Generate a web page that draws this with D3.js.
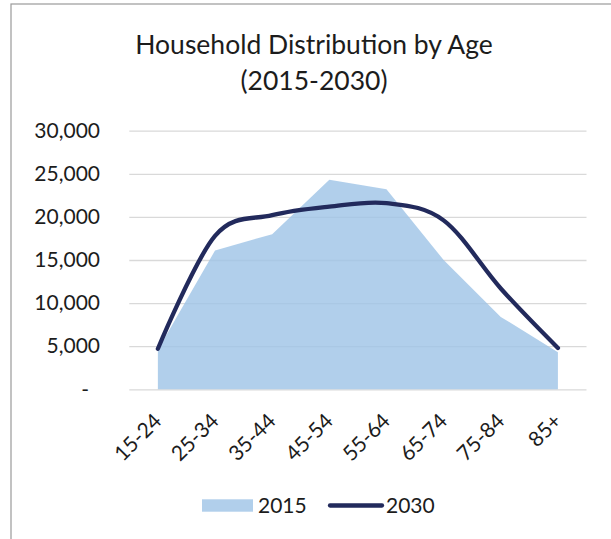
<!DOCTYPE html>
<html>
<head>
<meta charset="utf-8">
<script src="https://cdn.jsdelivr.net/npm/d3@7"></script>
<style>
  body { margin: 0; background: #fff; }
  svg { display: block; font-family: Lato, "Open Sans", sans-serif; }
</style>
</head>
<body>
<svg id="chart" width="611" height="539"></svg>
<script>
// household counts by age band
const ages = ["15-24", "25-34", "35-44", "45-54", "55-64", "65-74", "75-84", "85+"];
const hh2015 = [4600, 16100, 18000, 24300, 23200, 15000, 8400, 4300];
const hh2030 = [4700, 17800, 20200, 21200, 21600, 19600, 11700, 4800];
const yTicks = [0, 5000, 10000, 15000, 20000, 25000, 30000];
const titleLines = ["Household Distribution by Age", "(2015-2030)"];
const seriesNames = ["2015", "2030"];

const W = 611, H = 539;
const plot = { left: 129.3, right: 586.5, top: 130.7, bottom: 389.3 };
const areaFill = "#9dc3e6", areaOpacity = 0.8;
const lineColor = "#222a5c";
const textColor = "#1c1c1c";

const svg = d3.select("#chart");

// frame (only left and top edges fall inside the window)
svg.append("rect")
  .attr("x", 11).attr("y", 4)
  .attr("width", W + 20).attr("height", H + 20)
  .attr("fill", "none").attr("stroke", "#9a9a9a").attr("stroke-width", 1.2);

const x = d3.scaleBand().domain(ages).range([plot.left, plot.right]);
const y = d3.scaleLinear().domain([0, 30000]).range([plot.bottom, plot.top]);
const cx = d => x(d) + x.bandwidth() / 2;

// title
svg.append("text")
  .attr("text-anchor", "middle")
  .attr("fill", textColor)
  .attr("font-size", 26.5)
  .selectAll("tspan")
  .data(titleLines)
  .join("tspan")
  .attr("x", 314)
  .attr("y", (d, i) => i === 0 ? 54.3 : 90)
  .text(d => d);

// gridlines
svg.append("g")
  .attr("transform", `translate(${plot.left},0)`)
  .call(d3.axisLeft(y).tickValues(yTicks).tickSize(-(plot.right - plot.left)).tickFormat(""))
  .call(g => g.select(".domain").remove())
  .call(g => g.selectAll("line").attr("stroke", "#d9d9d9").attr("stroke-width", 1.3));

// y labels
svg.append("g")
  .attr("transform", `translate(${plot.left},0)`)
  .call(d3.axisLeft(y).tickValues(yTicks).tickSize(0).tickPadding(29.3)
    .tickFormat(d => d === 0 ? "-" : d3.format(",")(d)))
  .call(g => g.select(".domain").remove())
  .call(g => g.selectAll("text")
    .attr("font-family", "Lato, sans-serif")
    .attr("font-size", 21)
    .attr("fill", textColor)
    .attr("dx", d => d === 0 ? -11 : 0));

// 2015 area
const area = d3.area()
  .x((d, i) => cx(ages[i]))
  .y0(y(0))
  .y1(d => y(d))
  .curve(d3.curveLinear);

svg.append("path")
  .datum(hh2015)
  .attr("d", area)
  .attr("fill", areaFill)
  .attr("fill-opacity", areaOpacity);

// 2030 smoothed line
const line = d3.line()
  .x((d, i) => cx(ages[i]))
  .y(d => y(d))
  .curve(d3.curveCatmullRom.alpha(0));

svg.append("path")
  .datum(hh2030)
  .attr("d", line)
  .attr("fill", "none")
  .attr("stroke", lineColor)
  .attr("stroke-width", 4.3)
  .attr("stroke-linecap", "round")
  .attr("stroke-linejoin", "round");

// x labels, rotated
svg.append("g")
  .attr("transform", `translate(0,${plot.bottom})`)
  .call(d3.axisBottom(x).tickSize(0))
  .call(g => g.select(".domain").remove())
  .call(g => g.selectAll("text")
    .attr("font-family", "Lato, sans-serif")
    .attr("font-size", 21)
    .attr("fill", textColor)
    .attr("y", 0).attr("dy", 0)
    .attr("text-anchor", "end")
    .attr("transform", "translate(5,33) rotate(-45)"));

// legend
const lg = svg.append("g");
lg.append("rect")
  .attr("x", 202).attr("y", 499.3).attr("width", 51).attr("height", 12.4)
  .attr("fill", areaFill).attr("fill-opacity", areaOpacity);
lg.append("text")
  .attr("x", 258).attr("y", 512.5)
  .attr("font-size", 21).attr("fill", textColor)
  .text(seriesNames[0]);
lg.append("line")
  .attr("x1", 330).attr("x2", 382).attr("y1", 505.5).attr("y2", 505.5)
  .attr("stroke", lineColor).attr("stroke-width", 4.3).attr("stroke-linecap", "round");
lg.append("text")
  .attr("x", 386).attr("y", 512.5)
  .attr("font-size", 21).attr("fill", textColor)
  .text(seriesNames[1]);
</script>
</body>
</html>
